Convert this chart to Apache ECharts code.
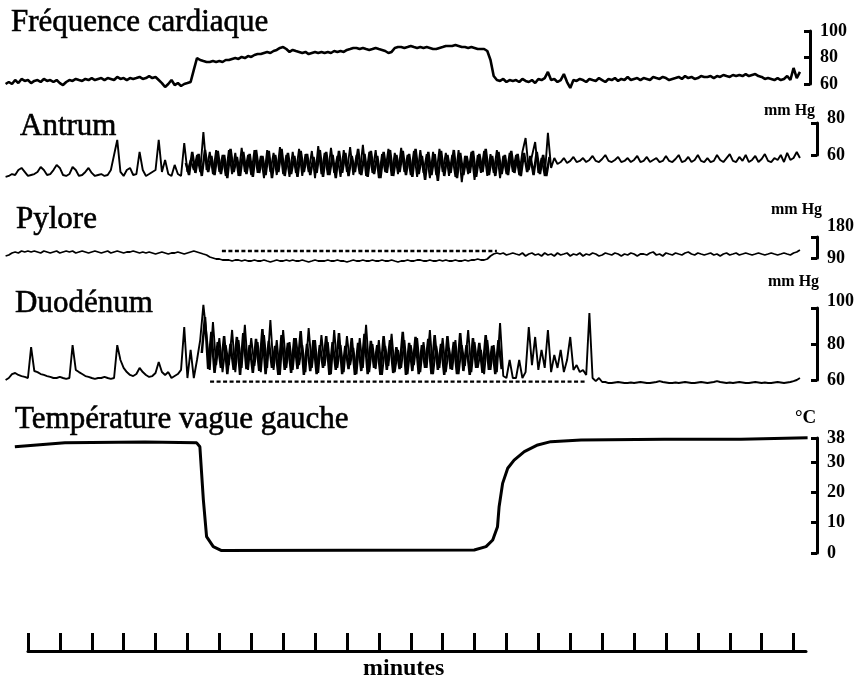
<!DOCTYPE html>
<html>
<head>
<meta charset="utf-8">
<title>Fréquence cardiaque, pressions et température</title>
<script src="https://cdn.jsdelivr.net/npm/echarts@6/dist/echarts.min.js"></script>
<style>
  html, body { margin: 0; padding: 0; background: #fff; }
  #chart { width: 862px; height: 682px; }
</style>
</head>
<body>
<div id="chart"></div>
<script>
// traces are sampled every 0.1 min, first sample at -0.7 min
const t0 = -0.7
const step = 0.1

// battements / min
const heartRate = [
  60.0, 61.5, 60.0, 63.0, 60.7, 63.8, 62.3, 63.0, 60.7, 62.3,
  63.0, 61.5, 63.8, 62.3, 63.0, 61.5, 63.0, 60.7, 59.2, 61.5,
  63.0, 62.3, 63.8, 63.0, 62.3, 63.8, 63.0, 64.5, 63.0, 63.8,
  64.5, 63.0, 64.5, 63.8, 63.0, 65.3, 63.8, 64.5, 63.0, 64.5,
  63.8, 64.5, 65.3, 63.8, 64.5, 66.0, 64.5, 65.3, 63.0, 60.7,
  57.7, 60.0, 63.0, 59.2, 60.7, 58.5, 60.0, 60.7, 61.5, 70.6,
  79.6, 78.1, 77.3, 76.6, 76.6, 77.3, 76.6, 77.3, 76.6, 78.1,
  78.1, 78.9, 79.6, 78.9, 80.4, 79.6, 81.1, 80.4, 81.9, 82.6,
  82.6, 83.4, 84.2, 83.4, 84.9, 85.7, 87.2, 87.9, 86.4, 84.2,
  85.7, 84.9, 84.2, 83.4, 84.2, 82.6, 83.4, 84.2, 83.4, 84.2,
  83.4, 84.2, 83.4, 84.9, 84.2, 84.9, 84.2, 85.7, 86.4, 87.2,
  87.2, 86.4, 87.2, 86.4, 85.7, 86.4, 87.2, 86.4, 85.7, 84.9,
  83.4, 84.2, 87.2, 87.9, 87.9, 87.2, 87.9, 88.7, 87.9, 87.2,
  87.9, 87.2, 87.9, 87.2, 86.4, 86.4, 87.2, 87.9, 88.7, 88.7,
  88.7, 89.4, 88.7, 87.9, 87.9, 87.2, 87.9, 87.2, 86.4, 86.4,
  86.4, 84.9, 78.1, 66.0, 63.0, 62.3, 63.8, 61.5, 63.0, 62.3,
  63.0, 61.5, 63.8, 62.3, 61.5, 63.0, 60.7, 63.8, 63.0, 64.5,
  69.1, 63.0, 63.8, 61.5, 63.0, 67.5, 61.5, 57.0, 63.0, 62.3,
  63.8, 63.0, 61.5, 63.8, 63.0, 62.3, 64.5, 63.0, 61.5, 63.8,
  63.0, 64.5, 62.3, 63.8, 63.0, 65.3, 63.0, 63.8, 64.5, 63.0,
  64.5, 63.8, 63.0, 65.3, 64.5, 63.8, 65.3, 64.5, 63.0, 63.8,
  64.5, 65.3, 63.8, 66.0, 64.5, 65.3, 63.8, 64.5, 66.0, 65.3,
  65.3, 66.0, 64.5, 66.0, 65.3, 66.8, 66.0, 65.3, 66.8, 66.0,
  66.8, 66.0, 67.5, 66.0, 66.8, 67.5, 66.0, 65.3, 63.8, 64.5,
  63.8, 63.0, 64.5, 63.0, 63.8, 66.0, 63.0, 72.1, 64.5, 69.1
]

// mm Hg
const antrum = [
  46.3, 46.9, 48.1, 47.5, 50.6, 51.9, 49.4, 46.9, 47.5, 48.1,
  49.4, 52.5, 50.6, 47.5, 48.1, 50.6, 53.8, 51.9, 47.5, 46.9,
  48.1, 52.5, 50.6, 46.9, 47.5, 49.4, 51.9, 48.8, 46.9, 47.5,
  48.1, 46.9, 47.5, 50.6, 60.0, 69.4, 49.4, 46.9, 50.6, 51.9,
  47.5, 48.1, 61.9, 50.6, 46.9, 48.1, 49.4, 50.6, 69.4, 49.4,
  56.9, 48.1, 46.9, 53.8, 48.1, 46.9, 67.5, 49.4, 56.9, 50.6,
  60.0, 49.4, 74.4, 50.6, 61.9, 48.1, 63.1, 49.4, 60.0, 46.9,
  63.1, 48.1, 61.3, 46.9, 64.4, 49.4, 60.0, 47.5, 63.1, 48.8,
  59.4, 45.6, 63.1, 49.4, 61.3, 47.5, 65.0, 48.1, 60.0, 46.3,
  61.9, 48.8, 63.8, 46.9, 60.6, 49.4, 62.5, 45.6, 65.6, 48.1,
  61.3, 47.5, 64.4, 48.8, 59.4, 46.3, 63.1, 49.4, 65.0, 47.5,
  60.0, 48.1, 66.3, 46.9, 61.9, 48.8, 63.1, 45.6, 60.6, 49.4,
  63.8, 46.9, 61.3, 48.1, 64.4, 49.4, 60.0, 47.5, 62.5, 46.3,
  63.1, 48.8, 60.6, 45.6, 61.9, 47.5, 63.8, 49.4, 61.3, 46.9,
  60.0, 46.3, 63.1, 43.1, 59.4, 48.1, 61.9, 44.4, 60.0, 48.8,
  62.5, 46.9, 60.6, 48.8, 63.1, 45.6, 59.4, 48.1, 61.3, 49.4,
  60.0, 47.5, 61.9, 70.6, 50.6, 59.4, 68.1, 48.8, 58.1, 46.9,
  73.8, 51.9, 58.1, 54.4, 55.6, 58.1, 55.0, 56.3, 58.8, 55.6,
  56.3, 58.1, 55.6, 56.9, 59.4, 56.3, 55.6, 57.5, 60.0, 56.3,
  55.6, 56.9, 58.8, 55.6, 56.3, 58.1, 55.6, 56.9, 59.4, 55.6,
  56.3, 58.8, 55.6, 56.9, 58.1, 55.6, 56.3, 59.4, 56.3, 55.6,
  57.5, 60.0, 55.6, 56.3, 58.8, 55.6, 56.9, 60.0, 56.3, 55.6,
  58.1, 55.6, 56.3, 60.0, 56.9, 55.6, 58.1, 60.6, 56.3, 55.6,
  58.8, 56.3, 60.0, 55.6, 56.9, 59.4, 55.6, 57.5, 60.6, 56.3,
  55.6, 58.1, 56.9, 60.0, 55.6, 61.3, 56.9, 58.1, 61.9, 58.1
]
// extra samples inside the antrum burst, from 4.95 min, every 0.1 min
const antrumBurstStart = 4.95
const antrumBurst = [
  55.0, 47.5, 61.9, 48.8, 60.6, 46.9, 63.1, 49.4, 59.4, 47.5,
  62.5, 48.1, 60.0, 45.6, 63.8, 49.4, 58.8, 46.9, 61.9, 48.1,
  60.6, 46.3, 63.1, 48.8, 59.4, 47.5, 62.5, 45.6, 60.0, 49.4,
  63.8, 46.9, 61.3, 48.1, 59.4, 46.3, 62.5, 49.4, 60.6, 47.5,
  58.8, 48.8, 63.1, 46.3, 61.9, 47.5, 60.0, 45.6, 62.5, 48.8,
  61.3, 46.9, 59.4, 49.4, 63.8, 47.5, 60.6, 46.3, 62.5, 48.1,
  59.4, 45.6, 61.9, 48.8, 63.1, 46.9, 60.0, 49.4, 62.5, 47.5,
  60.6, 46.3, 63.8, 48.1, 59.4, 44.4, 61.9, 47.5, 60.6, 43.8,
  62.5, 46.9, 60.0, 48.8, 63.1, 45.6, 61.3, 47.5, 59.4, 48.8,
  62.5, 46.3, 60.6, 49.4, 63.8, 47.5, 59.4, 46.9, 61.9, 48.1,
  60.0, 47.5, 62.5, 48.8, 60.6, 46.9, 61.3, 49.4, 59.4, 47.5,
  61.9, 48.1, 60.0, 46.9, 58.8
]

// mm Hg
const pylore = [
  98.6, 102.9, 111.4, 115.7, 111.4, 120.0, 115.7, 120.0, 115.7, 120.0,
  115.7, 111.4, 120.0, 115.7, 111.4, 115.7, 120.0, 111.4, 115.7, 120.0,
  115.7, 120.0, 111.4, 115.7, 120.0, 115.7, 111.4, 115.7, 120.0, 115.7,
  111.4, 115.7, 120.0, 111.4, 115.7, 120.0, 115.7, 111.4, 115.7, 115.7,
  120.0, 115.7, 111.4, 115.7, 111.4, 115.7, 111.4, 107.1, 111.4, 115.7,
  111.4, 107.1, 111.4, 111.4, 115.7, 111.4, 107.1, 111.4, 115.7, 120.0,
  115.7, 111.4, 107.1, 102.9, 94.3, 90.0, 85.7, 85.7, 81.4, 81.4,
  81.4, 77.1, 81.4, 81.4, 77.1, 81.4, 77.1, 77.1, 81.4, 77.1,
  77.1, 81.4, 77.1, 72.9, 77.1, 81.4, 77.1, 77.1, 81.4, 77.1,
  81.4, 77.1, 77.1, 81.4, 77.1, 72.9, 77.1, 81.4, 77.1, 77.1,
  77.1, 81.4, 77.1, 77.1, 81.4, 77.1, 77.1, 72.9, 77.1, 81.4,
  77.1, 77.1, 81.4, 77.1, 77.1, 81.4, 77.1, 77.1, 81.4, 77.1,
  77.1, 81.4, 77.1, 72.9, 77.1, 77.1, 81.4, 77.1, 77.1, 81.4,
  81.4, 77.1, 77.1, 81.4, 77.1, 77.1, 81.4, 77.1, 81.4, 77.1,
  77.1, 81.4, 77.1, 77.1, 81.4, 77.1, 81.4, 81.4, 85.7, 81.4,
  81.4, 85.7, 98.6, 107.1, 111.4, 107.1, 111.4, 102.9, 107.1, 111.4,
  107.1, 102.9, 111.4, 98.6, 107.1, 111.4, 102.9, 107.1, 98.6, 111.4,
  102.9, 107.1, 98.6, 111.4, 102.9, 107.1, 111.4, 98.6, 107.1, 102.9,
  111.4, 98.6, 107.1, 102.9, 111.4, 107.1, 98.6, 102.9, 111.4, 107.1,
  102.9, 111.4, 107.1, 98.6, 107.1, 102.9, 111.4, 107.1, 98.6, 107.1,
  107.1, 102.9, 111.4, 115.7, 102.9, 107.1, 98.6, 111.4, 107.1, 102.9,
  111.4, 107.1, 102.9, 111.4, 115.7, 107.1, 102.9, 111.4, 107.1, 102.9,
  107.1, 111.4, 102.9, 107.1, 98.6, 107.1, 111.4, 102.9, 107.1, 111.4,
  102.9, 107.1, 111.4, 107.1, 102.9, 107.1, 111.4, 107.1, 102.9, 107.1,
  111.4, 107.1, 102.9, 107.1, 111.4, 107.1, 102.9, 111.4, 115.7, 124.3
]

// mm Hg
const duodenum = [
  60.0, 61.1, 63.3, 63.9, 62.8, 62.2, 61.7, 61.1, 78.3, 65.0,
  64.4, 63.3, 62.8, 62.2, 61.7, 61.1, 61.1, 61.7, 61.1, 60.6,
  61.1, 79.4, 65.6, 64.4, 63.3, 62.2, 61.7, 61.1, 60.6, 61.1,
  61.1, 61.7, 61.1, 60.6, 61.1, 79.4, 71.1, 66.7, 64.4, 62.8,
  62.2, 63.3, 66.7, 64.4, 62.8, 61.7, 62.2, 63.9, 70.0, 64.4,
  62.8, 64.4, 61.1, 62.2, 63.3, 65.6, 89.4, 61.1, 76.7, 61.1,
  71.1, 82.2, 101.7, 85.0, 65.6, 92.2, 68.3, 83.3, 64.4, 79.4,
  68.3, 87.8, 64.4, 82.2, 66.7, 90.6, 65.6, 83.3, 67.8, 81.1,
  64.4, 85.0, 66.7, 93.3, 65.6, 82.2, 62.8, 87.8, 66.7, 81.1,
  65.6, 83.3, 68.3, 79.4, 64.4, 88.9, 66.7, 82.2, 63.9, 85.0,
  67.8, 81.1, 63.3, 87.8, 66.7, 79.4, 64.4, 84.4, 68.3, 77.8,
  63.3, 83.3, 66.7, 90.6, 64.4, 80.0, 66.1, 82.2, 62.8, 78.9,
  67.8, 85.6, 64.4, 76.7, 66.7, 82.2, 63.3, 79.4, 68.3, 83.3,
  64.4, 81.1, 66.7, 87.8, 63.3, 78.9, 66.7, 83.3, 64.4, 77.8,
  65.6, 82.2, 63.3, 79.4, 67.8, 87.8, 64.4, 81.1, 66.7, 76.7,
  63.3, 82.2, 65.6, 79.4, 64.4, 91.7, 62.2, 61.1, 71.1, 61.1,
  61.1, 71.1, 61.1, 64.4, 89.4, 68.3, 83.9, 65.6, 76.7, 66.7,
  87.8, 64.4, 73.9, 66.7, 76.7, 64.4, 71.1, 83.9, 65.6, 68.3,
  64.4, 65.6, 62.8, 97.2, 61.1, 59.4, 61.1, 58.9, 58.9, 58.3,
  58.3, 58.6, 58.9, 58.6, 58.3, 58.3, 58.6, 58.3, 58.6, 58.9,
  58.6, 58.3, 58.3, 58.6, 58.9, 59.4, 58.9, 58.6, 58.3, 58.3,
  58.6, 58.3, 58.6, 58.9, 58.6, 58.3, 58.3, 58.6, 58.9, 58.6,
  58.3, 58.6, 58.9, 59.4, 58.9, 58.6, 58.3, 58.6, 58.3, 58.6,
  58.9, 58.6, 58.3, 58.3, 58.6, 58.9, 58.6, 58.3, 58.6, 58.3,
  58.3, 58.6, 58.9, 58.6, 58.3, 58.6, 58.9, 59.4, 60.0, 61.1
]
// extra samples inside the duodenum burst, from 5.45 min, every 0.1 min
const duodBurstStart = 5.45
const duodBurst = [
  75.0, 95.0, 66.1, 86.7, 63.9, 81.1, 66.7, 84.4, 63.3, 80.0,
  65.6, 83.9, 62.8, 86.1, 66.1, 79.4, 63.9, 82.8, 65.0, 88.3,
  63.3, 81.7, 66.7, 78.9, 62.8, 85.0, 65.6, 80.6, 63.9, 83.3,
  66.1, 87.2, 62.8, 80.0, 65.0, 82.2, 63.3, 79.4, 66.7, 84.4,
  62.8, 81.1, 65.6, 86.1, 63.3, 78.9, 66.1, 83.3, 62.8, 80.6,
  65.0, 85.6, 63.3, 81.7, 66.7, 79.4, 62.8, 84.4, 65.6, 82.2,
  63.9, 78.3, 66.1, 86.7, 62.8, 80.6, 65.0, 83.9, 63.3, 79.4,
  66.7, 82.8, 63.3, 85.0, 65.6, 80.0, 62.8, 84.4, 66.1, 81.1,
  63.3, 86.1, 65.0, 79.4, 62.8, 83.3, 66.7, 80.6, 63.9, 85.0,
  65.6, 78.9, 63.3, 82.2, 66.1
]

// °C, irregular time points (min)
const tempTime = [-0.41, 1.16, 3.67, 5.29, 5.39, 5.50, 5.60, 5.81, 6.07, 13.99, 14.36, 14.57,
  14.72, 14.77, 14.88, 15.04, 15.24, 15.56, 15.98, 16.39, 17.34, 19.94, 22.35, 24.44]
const tempValue = [35.1, 36.4, 36.7, 36.4, 35.1, 17.5, 5.4, 2.1, 0.8, 1.0, 2.1, 4.3,
  8.7, 15.3, 23.0, 28.0, 30.7, 33.5, 35.7, 36.8, 37.3, 37.6, 37.6, 38.1]

// dotted baselines (start / end minute, level)
const pyloreRefTime = [6.08, 14.70]
const pyloreRefValue = [120, 120]
const duodRefTime = [5.71, 17.49]
const duodRefValue = [59.1, 59.1]

const minuteTicks = [0, 1, 2, 3, 4, 5, 6, 7, 8, 9, 10, 11, 12, 13, 14, 15, 16, 17, 18, 19, 20, 21, 22, 23, 24]

const serif = '"Liberation Serif", "DejaVu Serif", serif'
const sampled = (values, start = t0) => values.map((v, i) => [Math.round((start + i * step) * 100) / 100, v])
const zip = (xs, ys) => xs.map((x, i) => [x, ys[i]])

// panels: pixel top / height of each scale bracket
const panels = [
  { top: 31, height: 53, min: 60, max: 100, interval: 20, offset: 4, lift: 0 },
  { top: 123, height: 32, min: 60, max: 80, interval: 20, offset: 11, lift: 10 },
  { top: 237, height: 21, min: 90, max: 180, interval: 90, offset: 11, lift: 22 },
  { top: 308, height: 72, min: 60, max: 100, interval: 20, offset: 11, lift: 14 },
  { top: 438, height: 115, min: 0, max: 38, interval: 10, offset: 11, lift: 0 }
]

const grid = panels.map(p => ({ left: 4, width: 802, top: p.top, height: p.height }))
grid.push({ left: 28, width: 778, top: 600, height: 51 })

const xAxis = panels.map((p, i) => ({
  type: 'value', gridIndex: i, min: -0.75, max: 24.39, show: false
}))
xAxis.push({
  type: 'value', gridIndex: 5, min: 0, max: 24.39, interval: 1, position: 'bottom',
  axisLine: { show: true, onZero: false, lineStyle: { color: '#000', width: 3 } },
  axisTick: { show: true, inside: true, length: 18, customValues: minuteTicks, lineStyle: { color: '#000', width: 3 } },
  axisLabel: { show: false },
  splitLine: { show: false }
})

const labelFont = { fontFamily: serif, fontWeight: 'bold', fontSize: 18, color: '#000' }
const yAxis = panels.map((p, i) => ({
  type: 'value', gridIndex: i, position: 'right', offset: p.offset,
  min: p.min, max: p.max, interval: p.interval,
  axisLine: { show: true, onZero: false, lineStyle: { color: '#000', width: 3 } },
  axisTick: { show: true, inside: true, length: 6, lineStyle: { color: '#000', width: 3 } },
  axisLabel: {
    ...labelFont,
    margin: 10,
    formatter: v => (v === p.max && p.lift ? `{lift|${v}}` : `${v}`),
    rich: { lift: { ...labelFont, padding: [0, 0, p.lift, 0] } }
  },
  splitLine: { show: false }
}))
yAxis.push({ type: 'value', gridIndex: 5, show: false })

const trace = (data, idx, width, extra = {}) => ({
  type: 'line', xAxisIndex: idx, yAxisIndex: idx, data,
  symbol: 'none', clip: false, silent: true, animation: false,
  lineStyle: { color: '#000', width, ...extra }
})

const series = [
  trace(sampled(heartRate), 0, 2.6),
  trace(sampled(antrum), 1, 1.9),
  trace(sampled(antrumBurst, antrumBurstStart), 1, 2.5),
  trace(sampled(pylore), 2, 1.8),
  trace(zip(pyloreRefTime, pyloreRefValue), 2, 2.4, { type: [4, 2.5] }),
  trace(sampled(duodenum), 3, 1.9),
  trace(sampled(duodBurst, duodBurstStart), 3, 2.5),
  trace(zip(duodRefTime, duodRefValue), 3, 2.4, { type: [4, 2.5] }),
  trace(zip(tempTime, tempValue), 4, 3)
]

const heading = (text, left, top) => ({
  text, left, top, padding: 0,
  textStyle: {
    fontFamily: serif, fontSize: 31, fontWeight: 'normal', color: '#000',
    textBorderColor: '#000', textBorderWidth: 0.6
  }
})
const unit = (text, left, top, size = 16) => ({
  text, left, top, padding: 0,
  textStyle: { fontFamily: serif, fontSize: size, fontWeight: 'bold', color: '#000' }
})

const title = [
  heading('Fréquence cardiaque', 11, 7),
  heading('Antrum', 20, 111),
  heading('Pylore', 16, 204),
  heading('Duodénum', 15, 288),
  heading('Température vague gauche', 15, 404),
  unit('mm Hg', 764, 103),
  unit('mm Hg', 771, 202),
  unit('mm Hg', 768, 274),
  unit('°C', 795, 409, 19),
  unit('minutes', 363, 657, 24)
]

const chart = echarts.init(document.getElementById('chart'))
chart.setOption({ animation: false, title, grid, xAxis, yAxis, series })
</script>
</body>
</html>
